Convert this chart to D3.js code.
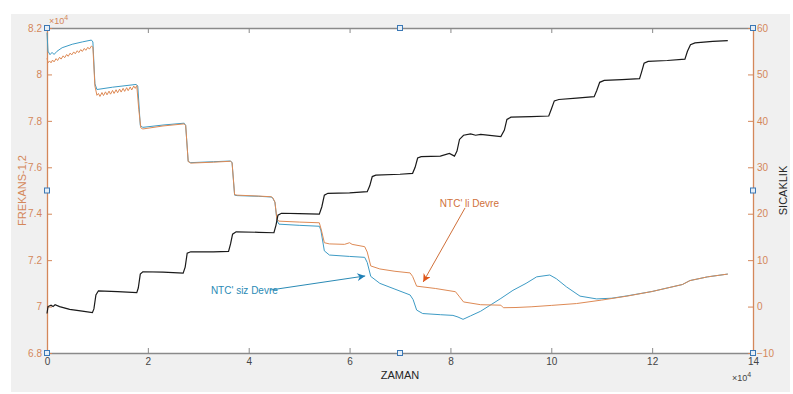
<!DOCTYPE html>
<html>
<head>
<meta charset="utf-8">
<script src="https://cdn.jsdelivr.net/npm/d3@7"></script>
<style>
  body { margin: 0; background: #fff; }
  svg { display: block; font-family: "Liberation Sans", Arial, sans-serif; }
</style>
</head>
<body>
<div id="chart"></div>
<script>
"use strict";

// time in units of 1e4, frequency in units of 1e4, temperature in degrees
let xTicks = [0, 2, 4, 6, 8, 10, 12, 14];
let freqTicks = [6.8, 7, 7.2, 7.4, 7.6, 7.8, 8, 8.2];
let tempTicks = [-10, 0, 10, 20, 30, 40, 50, 60];

let blueFreq = [
  [0, 8.18], [0.02, 8.10], [0.06, 8.085], [0.1, 8.095], [0.14, 8.086], [0.2, 8.10],
  [0.3, 8.115], [0.5, 8.13], [0.7, 8.14], [0.88, 8.148], [0.91, 8.14], [0.95, 7.96],
  [0.99, 7.935], [1.3, 7.945], [1.77, 7.957], [1.8, 7.95], [1.85, 7.78], [1.9, 7.772],
  [2.3, 7.782], [2.72, 7.79], [2.75, 7.78], [2.8, 7.625], [2.85, 7.62], [3.3, 7.624],
  [3.64, 7.627], [3.67, 7.62], [3.72, 7.48], [3.77, 7.478], [4.2, 7.475], [4.45, 7.472],
  [4.48, 7.465], [4.52, 7.45], [4.56, 7.37], [4.6, 7.355], [5.0, 7.35], [5.4, 7.346],
  [5.43, 7.33], [5.5, 7.24], [5.6, 7.222], [6.0, 7.216], [6.3, 7.212], [6.35, 7.19],
  [6.42, 7.13], [6.6, 7.1], [6.9, 7.075], [7.2, 7.05], [7.26, 7.03], [7.33, 6.985],
  [7.45, 6.97], [7.8, 6.965], [8.05, 6.962], [8.15, 6.955], [8.25, 6.945], [8.4, 6.96],
  [8.6, 6.98], [9.0, 7.035], [9.24, 7.07], [9.5, 7.1], [9.71, 7.128], [9.97, 7.136],
  [10.1, 7.12], [10.3, 7.085], [10.57, 7.045], [10.9, 7.033], [11.2, 7.036], [11.5, 7.046],
  [12.0, 7.065], [12.6, 7.095], [12.75, 7.112], [13.1, 7.128], [13.5, 7.14]
];

let orangeFreq = [
  [0, 8.07], [0.02, 8.05], [0.05, 8.058], [0.08, 8.05], [0.11, 8.062], [0.14, 8.054],
  [0.18, 8.068], [0.21, 8.06], [0.25, 8.074], [0.28, 8.066], [0.32, 8.08], [0.35, 8.072],
  [0.39, 8.086], [0.42, 8.078], [0.46, 8.092], [0.49, 8.084], [0.53, 8.097], [0.56, 8.089],
  [0.6, 8.102], [0.63, 8.094], [0.67, 8.107], [0.7, 8.099], [0.74, 8.112], [0.77, 8.104],
  [0.81, 8.117], [0.84, 8.109], [0.88, 8.122], [0.91, 8.118], [0.95, 7.95], [0.99, 7.91],
  [1.02, 7.918], [1.05, 7.905], [1.09, 7.922], [1.12, 7.909], [1.16, 7.925], [1.19, 7.912],
  [1.23, 7.928], [1.26, 7.915], [1.3, 7.931], [1.33, 7.918], [1.37, 7.934], [1.4, 7.921],
  [1.44, 7.937], [1.47, 7.924], [1.51, 7.94], [1.54, 7.927], [1.58, 7.943], [1.61, 7.93],
  [1.65, 7.946], [1.68, 7.933], [1.72, 7.95], [1.75, 7.94], [1.78, 7.952], [1.82, 7.85],
  [1.86, 7.77], [1.9, 7.765], [2.3, 7.778], [2.72, 7.787], [2.75, 7.78], [2.8, 7.625],
  [2.85, 7.618], [3.3, 7.622], [3.64, 7.626], [3.67, 7.62], [3.72, 7.482], [3.77, 7.48],
  [4.2, 7.476], [4.45, 7.473], [4.48, 7.468], [4.52, 7.45], [4.56, 7.375], [4.6, 7.368],
  [5.0, 7.364], [5.4, 7.361], [5.44, 7.33], [5.5, 7.275], [5.6, 7.27], [5.9, 7.268],
  [6.0, 7.275], [6.05, 7.268], [6.3, 7.258], [6.35, 7.235], [6.42, 7.175], [6.6, 7.162],
  [6.9, 7.152], [7.2, 7.145], [7.25, 7.13], [7.33, 7.088], [7.7, 7.078], [8.1, 7.064],
  [8.17, 7.045], [8.26, 7.02], [8.6, 7.008], [9.0, 7.006], [9.05, 6.995], [9.3, 6.996],
  [9.6, 6.999], [10.0, 7.005], [10.5, 7.013], [11.0, 7.028], [11.5, 7.045], [12.0, 7.065],
  [12.6, 7.095], [12.75, 7.112], [13.1, 7.128], [13.5, 7.14]
];

let temperature = [
  [0, -1.5], [0.02, 0.0], [0.08, 0.3], [0.12, 0.0], [0.16, 0.4], [0.25, 0.0],
  [0.45, -0.6], [0.7, -1.0], [0.9, -1.3], [0.93, -0.5], [0.97, 2.5], [1.02, 3.4],
  [1.4, 3.2], [1.78, 3.0], [1.81, 4.0], [1.85, 7.0], [1.9, 7.5], [2.3, 7.4],
  [2.7, 7.2], [2.74, 8.5], [2.78, 11.5], [2.85, 11.8], [3.3, 11.8], [3.6, 11.9],
  [3.64, 13.5], [3.68, 15.6], [3.75, 16.1], [4.2, 16.0], [4.5, 15.9], [4.54, 17.5],
  [4.58, 19.7], [4.65, 20.1], [5.0, 20.0], [5.4, 19.9], [5.45, 21.5], [5.5, 24.0],
  [5.57, 24.4], [6.0, 24.5], [6.35, 24.75], [6.4, 26.0], [6.45, 28.0], [6.52, 28.3],
  [7.0, 28.5], [7.25, 28.7], [7.3, 30.0], [7.35, 32.0], [7.42, 32.3], [7.8, 32.4],
  [7.98, 33.0], [8.08, 32.4], [8.13, 33.5], [8.18, 36.0], [8.26, 36.9], [8.4, 37.2],
  [8.5, 36.9], [8.6, 37.1], [9.0, 36.6], [9.07, 38.0], [9.12, 40.3], [9.2, 40.8],
  [9.6, 40.9], [9.95, 41.05], [10.0, 42.5], [10.06, 44.3], [10.15, 44.6], [10.5, 44.9],
  [10.85, 45.2], [10.9, 46.5], [10.96, 48.3], [11.05, 48.7], [11.4, 48.9], [11.75, 49.1],
  [11.79, 50.5], [11.84, 52.4], [11.92, 52.8], [12.3, 53.0], [12.65, 53.3], [12.7, 55.0],
  [12.76, 56.4], [12.85, 56.8], [13.2, 57.1], [13.5, 57.3]
];

// annotations: text position and arrow [tail, head] in (time, freq)
let sizText = [3.25, 7.071];
let sizArrow = [[4.42, 7.071], [6.31, 7.132]];
let liText = [7.79, 7.446];
let liArrow = [[8.29, 7.425], [7.46, 7.106]];

let width = 793;
let height = 394;
let plot = { left: 47, right: 753, top: 28, bottom: 353 };

let axisOrange = '#d4875a';
let blueColor = '#3d9bc5';
let orangeColor = '#de8a55';

let x = d3.scaleLinear().domain([0, 14]).range([plot.left, plot.right]);
let yL = d3.scaleLinear().domain([6.8, 8.2]).range([plot.bottom, plot.top]);
let yR = d3.scaleLinear().domain([-10, 60]).range([plot.bottom, plot.top]);

let svg = d3.select('#chart')
  .append('svg')
  .attr('width', width)
  .attr('height', height);

svg.append('defs').selectAll('marker')
  .data([['headBlue', '#1f7fb5'], ['headOrange', '#e0561a']])
  .join('marker')
  .attr('id', d => d[0])
  .attr('viewBox', '0 0 10 10')
  .attr('refX', 10)
  .attr('refY', 5)
  .attr('markerWidth', 10)
  .attr('markerHeight', 8)
  .attr('markerUnits', 'userSpaceOnUse')
  .attr('orient', 'auto')
  .append('path')
  .attr('d', 'M0,0 L10,5 L0,10 L3,5 Z')
  .attr('fill', d => d[1]);

// figure background
svg.append('rect')
  .attr('x', 11).attr('y', 14)
  .attr('width', 779).attr('height', 378)
  .attr('fill', '#f0f0f0');

svg.append('rect')
  .attr('x', plot.left).attr('y', plot.top)
  .attr('width', plot.right - plot.left)
  .attr('height', plot.bottom - plot.top)
  .attr('fill', '#fff');

// axes
let styleAxis = (g, color, textColor) => {
  g.select('.domain').attr('stroke', color).attr('stroke-width', 1.3);
  g.selectAll('.tick line').attr('stroke', color);
  g.selectAll('.tick text')
    .attr('fill', textColor)
    .style('font-size', '10px')
    .style('font-family', '"Liberation Sans", Arial, sans-serif');
};

svg.append('g')
  .attr('transform', 'translate(0,' + plot.top + ')')
  .call(d3.axisTop(x).tickValues(xTicks).tickSizeInner(-5).tickSizeOuter(0).tickFormat(''))
  .call(g => styleAxis(g, '#8a8a8a', '#444'));

svg.append('g')
  .attr('transform', 'translate(0,' + plot.bottom + ')')
  .call(d3.axisBottom(x).tickValues(xTicks).tickSizeInner(-5).tickSizeOuter(0).tickPadding(5))
  .call(g => styleAxis(g, '#8a8a8a', '#444'));

svg.append('g')
  .attr('transform', 'translate(' + plot.left + ',0)')
  .call(d3.axisLeft(yL).tickValues(freqTicks).tickSizeInner(-5).tickSizeOuter(0).tickPadding(5)
    .tickFormat(d3.format('~g')))
  .call(g => styleAxis(g, axisOrange, axisOrange));

svg.append('g')
  .attr('transform', 'translate(' + plot.right + ',0)')
  .call(d3.axisRight(yR).tickValues(tempTicks).tickSizeInner(-5).tickSizeOuter(0).tickPadding(4))
  .call(g => styleAxis(g, axisOrange, axisOrange));

// lines
let lineL = d3.line().x(d => x(d[0])).y(d => yL(d[1]));
let lineR = d3.line().x(d => x(d[0])).y(d => yR(d[1]));

svg.append('path')
  .datum(blueFreq)
  .attr('d', lineL)
  .attr('fill', 'none')
  .attr('stroke', blueColor)
  .attr('stroke-width', 1);

svg.append('path')
  .datum(orangeFreq)
  .attr('d', lineL)
  .attr('fill', 'none')
  .attr('stroke', orangeColor)
  .attr('stroke-width', 1);

svg.append('path')
  .datum(temperature)
  .attr('d', lineR)
  .attr('fill', 'none')
  .attr('stroke', '#1a1a1a')
  .attr('stroke-width', 1.2);

// annotations
svg.append('text')
  .attr('x', x(sizText[0])).attr('y', yL(sizText[1]) + 4)
  .attr('fill', '#2a8ab5')
  .style('font-size', '10px')
  .text("NTC' siz Devre");

svg.append('line')
  .attr('x1', x(sizArrow[0][0])).attr('y1', yL(sizArrow[0][1]))
  .attr('x2', x(sizArrow[1][0])).attr('y2', yL(sizArrow[1][1]))
  .attr('stroke', '#2a8ab5')
  .attr('stroke-width', 1)
  .attr('marker-end', 'url(#headBlue)');

svg.append('text')
  .attr('x', x(liText[0])).attr('y', yL(liText[1]) + 4)
  .attr('fill', '#d0703a')
  .style('font-size', '10px')
  .text("NTC' li  Devre");

svg.append('line')
  .attr('x1', x(liArrow[0][0])).attr('y1', yL(liArrow[0][1]))
  .attr('x2', x(liArrow[1][0])).attr('y2', yL(liArrow[1][1]))
  .attr('stroke', '#d0703a')
  .attr('stroke-width', 1)
  .attr('marker-end', 'url(#headOrange)');

// axis labels and exponents
svg.append('text')
  .attr('x', (plot.left + plot.right) / 2).attr('y', 379)
  .attr('text-anchor', 'middle')
  .attr('fill', '#262626')
  .style('font-size', '11px')
  .text('ZAMAN');

svg.append('text')
  .attr('transform', 'translate(26,' + ((plot.top + plot.bottom) / 2) + ') rotate(-90)')
  .attr('text-anchor', 'middle')
  .attr('fill', axisOrange)
  .style('font-size', '11px')
  .text('FREKANS-1,2');

svg.append('text')
  .attr('transform', 'translate(787,' + ((plot.top + plot.bottom) / 2) + ') rotate(-90)')
  .attr('text-anchor', 'middle')
  .attr('fill', '#262626')
  .style('font-size', '11px')
  .text('SICAKLIK');

let expo = (xPos, yPos, color) => {
  let t = svg.append('text')
    .attr('x', xPos).attr('y', yPos)
    .attr('fill', color)
    .style('font-size', '9px');
  t.append('tspan').text('\u00d710');
  t.append('tspan').attr('dy', -4).style('font-size', '7px').text('4');
};
expo(plot.left + 2, plot.top - 4, axisOrange);
expo(plot.right - 21, 381, '#444');

// selection handles
let handles = [
  [plot.left, plot.top], [(plot.left + plot.right) / 2, plot.top], [plot.right, plot.top],
  [plot.left, (plot.top + plot.bottom) / 2], [plot.right, (plot.top + plot.bottom) / 2],
  [plot.left, plot.bottom], [(plot.left + plot.right) / 2, plot.bottom], [plot.right, plot.bottom]
];
svg.append('g').selectAll('rect')
  .data(handles)
  .join('rect')
  .attr('x', d => d[0] - 2.5).attr('y', d => d[1] - 2.5)
  .attr('width', 5).attr('height', 5)
  .attr('fill', '#e6eef6')
  .attr('stroke', '#3b78b5')
  .attr('stroke-width', 1);
</script>
</body>
</html>
